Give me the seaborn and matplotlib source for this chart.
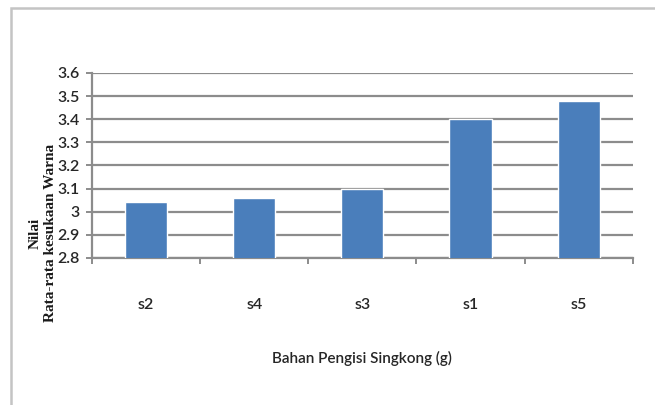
import matplotlib
matplotlib.use("Agg")
import matplotlib.pyplot as plt
import seaborn as sns
import pandas as pd
from matplotlib.patches import Rectangle
from matplotlib.ticker import FixedLocator, MultipleLocator

# Rata-rata nilai kesukaan warna per perlakuan
categories = ["s2", "s4", "s3", "s1", "s5"]
values = [3.04, 3.06, 3.10, 3.40, 3.48]
y_ticks = [2.8, 2.9, 3.0, 3.1, 3.2, 3.3, 3.4, 3.5, 3.6]
y_tick_labels = ["2.8", "2.9", "3", "3.1", "3.2", "3.3", "3.4", "3.5", "3.6"]

df = pd.DataFrame({"perlakuan": categories, "nilai": values})

sns.set_theme(style="white")
plt.rcParams["font.family"] = ["Lato", "DejaVu Sans"]

fig = plt.figure(figsize=(6.55, 4.05), dpi=100)
ax = fig.add_axes([0.1405, 0.363, 0.8255, 0.457])

# chart frame (top and left edges visible)
fig.patches.append(Rectangle((11 / 655, -0.05), 1.2, 1 - 8 / 405 + 0.05,
                             transform=fig.transFigure, fill=False,
                             edgecolor="#c4c4c4", linewidth=1.8))

sns.barplot(data=df, x="perlakuan", y="nilai", order=categories,
            color="#4a7ebb", saturation=1, width=0.39, ax=ax, zorder=3)

ax.set_ylim(2.8, 3.6)
ax.set_xlim(-0.5, len(categories) - 0.5)
ax.yaxis.set_major_locator(FixedLocator(y_ticks))
ax.set_yticklabels(y_tick_labels)
ax.grid(axis="y", color="#8c8c8c", linewidth=1.6, zorder=0)
ax.set_axisbelow(True)

for side in ("top", "right"):
    ax.spines[side].set_visible(False)
for side in ("left", "bottom"):
    ax.spines[side].set_color("#8c8c8c")
    ax.spines[side].set_linewidth(1.6)

ax.tick_params(axis="y", which="major", left=True, length=4, width=1.4,
               color="#8c8c8c", pad=5, labelsize=11.5, labelcolor="#262626")
ax.tick_params(axis="x", which="major", bottom=False, pad=23,
               labelsize=11.5, labelcolor="#262626")
ax.xaxis.set_minor_locator(MultipleLocator(1, offset=0.5))
ax.tick_params(axis="x", which="minor", bottom=True, length=4, width=1.4,
               color="#8c8c8c")
for lbl in ax.get_xticklabels() + ax.get_yticklabels():
    lbl.set_fontweight("semibold")

ax.set_xlabel("Bahan Pengisi Singkong (g)", fontsize=11, color="#262626",
              fontweight="semibold", labelpad=28)
ax.set_ylabel("")

fig.text(35 / 655, 1 - 233 / 405, "Nilai", rotation=90, ha="center",
         va="center", family=["Liberation Serif", "DejaVu Serif"],
         weight="bold", fontsize=11, color="#1a1a1a")
fig.text(51 / 655, 1 - 233 / 405, "Rata-rata kesukaan Warna", rotation=90,
         ha="center", va="center", family=["Liberation Serif", "DejaVu Serif"],
         weight="bold", fontsize=11, color="#1a1a1a")

fig.savefig("out.png", dpi=100, facecolor="white")
